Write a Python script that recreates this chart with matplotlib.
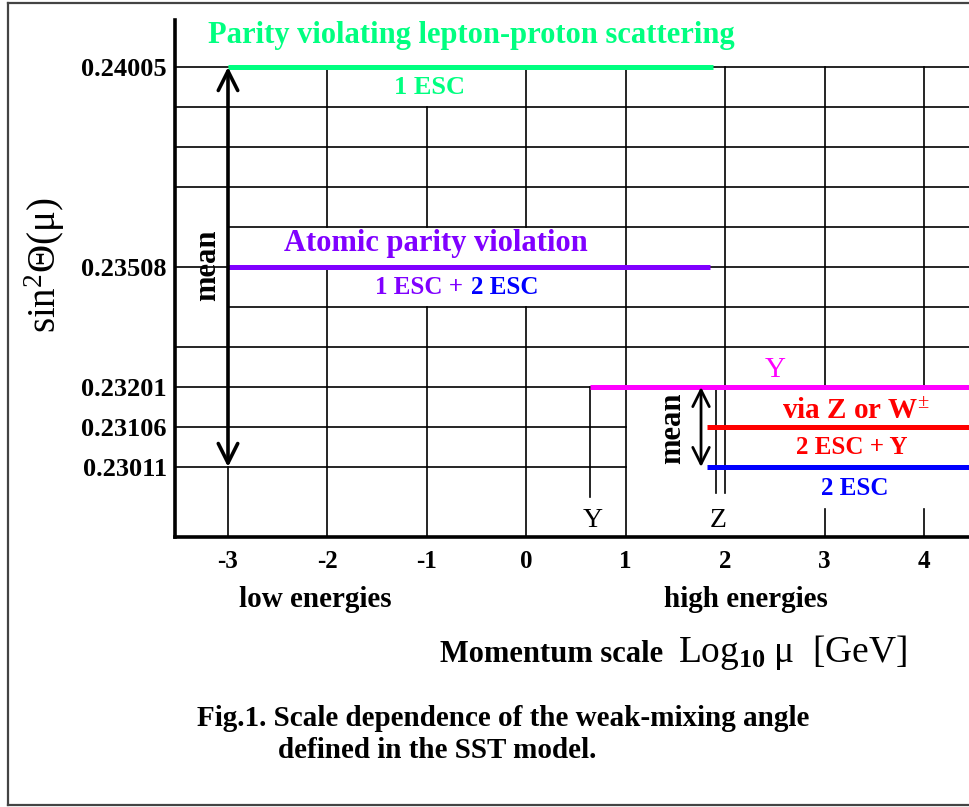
import matplotlib
matplotlib.use("Agg")
import matplotlib.pyplot as plt
from matplotlib.lines import Line2D

plt.rcParams['font.family'] = ['Liberation Serif', 'DejaVu Serif']
plt.rcParams['mathtext.fontset'] = 'custom'
plt.rcParams['mathtext.rm'] = 'Liberation Serif'
plt.rcParams['mathtext.it'] = 'Liberation Serif:italic'
plt.rcParams['mathtext.bf'] = 'Liberation Serif:bold'

# weak-mixing angle values and their row on the schematic grid
levels = [0.24005, 0.23508, 0.23201, 0.23106, 0.23011]
level_rows = [10, 5, 2, 1, 0]
level_labels = ["0.24005", "0.23508", "0.23201", "0.23106", "0.23011"]

# measured bands: value, log10(mu) start / end, colour
band_value = [0.24005, 0.23508, 0.23201, 0.23106, 0.23011]
band_x0 = [-3.0, -3.0, 0.64, 1.82, 1.82]
band_x1 = [1.88, 1.85, 4.46, 4.46, 4.46]
band_color = ["#00ff80", "#8000ff", "#ff00ff", "#ff0000", "#0000ff"]

x_ticks = [-3, -2, -1, 0, 1, 2, 3, 4]
y_marker = 0.64          # Y resonance
z_marker = [1.91, 2.0]   # Z boson

W, H = 970, 807
row_of = dict(zip(levels, level_rows))


def px(x, y):
    return x / W, 1 - y / H


fig = plt.figure(figsize=(W / 100, H / 100), dpi=100)
ax = fig.add_axes([175 / W, 1 - 537 / H, 795 / W, 517 / H])
L, R = -3.533, 4.462
B, T = -1.75, 11.175
ax.set_xlim(L, R)
ax.set_ylim(B, T)
for s in ["top", "right"]:
    ax.spines[s].set_visible(False)
for s in ["left", "bottom"]:
    ax.spines[s].set_linewidth(2.6)

ax.set_xticks(x_ticks)
ax.set_xticklabels([str(t) for t in x_ticks], fontsize=18, fontweight="bold")
ax.set_yticks(level_rows)
ax.set_yticklabels(level_labels, fontsize=19, fontweight="bold")
ax.tick_params(axis="both", length=0)
ax.tick_params(axis="y", pad=6)
ax.tick_params(axis="x", pad=9)

# schematic grid (segments, gaps left for labels)
gk = dict(color="black", lw=1.2, clip_on=False, zorder=1)
hsegs = [(10, L, -3), (10, 1.88, R), (9, L, R), (8, L, R), (7, L, R),
         (6, -3, R), (5, L, -3), (5, 1.85, R), (4, -3, R), (3, L, R),
         (2, L, y_marker), (1, L, 1), (0, L, 1)]
for r, a, b in hsegs:
    ax.plot([a, b], [r, r], **gk)
vsegs = [(-3, B, 0), (-2, 6, 10), (-2, B, 5), (-1, 6, 9), (-1, B, 4),
         (0, 6, 10), (0, B, 4), (1, B, 10), (2, 2, 10), (3, 2, 10),
         (3, B, -1.05), (4, 2, 10), (4, B, -1.05), (y_marker, -0.75, 2)]
for x, a, b in vsegs:
    ax.plot([x, x], [a, b], **gk)
for zx in z_marker:
    ax.plot([zx, zx], [-0.65, 2], **gk)

# coloured bands
for v, a, b, c in zip(band_value, band_x0, band_x1, band_color):
    ax.plot([a, b], [row_of[v], row_of[v]], color=c, lw=3.6,
            solid_capstyle="butt", clip_on=False, zorder=3)

# "mean" arrows
ax.annotate("", xy=(-3, row_of[0.24005]), xytext=(-3, row_of[0.23011]),
            arrowprops=dict(arrowstyle="<->, head_length=0.7, head_width=0.35",
                            lw=2.6, color="black", shrinkA=0, shrinkB=0,
                            mutation_scale=20), zorder=4)
ax.annotate("", xy=(1.757, row_of[0.23201]), xytext=(1.757, row_of[0.23011]),
            arrowprops=dict(arrowstyle="<->, head_length=0.7, head_width=0.35",
                            lw=2.0, color="black", shrinkA=0, shrinkB=0,
                            mutation_scale=17), zorder=4)
ax.text(-3.2, 5.05, "mean", rotation=90, ha="center", va="center",
        fontsize=22, fontweight="bold")
ax.text(1.47, 0.98, "mean", rotation=90, ha="center", va="center",
        fontsize=22, fontweight="bold")

# band labels
bk = dict(ha="center", va="center", fontweight="bold")
ax.text(-0.55, 10.8, "Parity violating lepton-proton scattering",
        color="#00ff80", fontsize=22, clip_on=False, **bk)
ax.text(-0.97, 9.48, "1 ESC", color="#00ff80", fontsize=19, **bk)
ax.text(-0.91, 5.6, "Atomic parity violation", color="#8000ff", fontsize=22, **bk)
ax.text(-1.522, 4.48, "1 ESC +", color="#8000ff", fontsize=18,
        ha="left", va="center", fontweight="bold")
ax.text(0.118, 4.48, "2 ESC", color="#0000ff", fontsize=18,
        ha="right", va="center", fontweight="bold")
ax.text(2.50, 2.43, "Y", color="#ff00ff", fontsize=21, ha="center", va="center")
ax.text(3.31, 1.4, "via Z or W$^{\\pm}$", color="#ff0000", fontsize=21, **bk)
ax.text(3.27, 0.48, "2 ESC + Y", color="#ff0000", fontsize=18, **bk)
ax.text(3.30, -0.53, "2 ESC", color="#0000ff", fontsize=18, **bk)
ax.text(0.67, -1.33, "Y", fontsize=20, ha="center", va="center")
ax.text(1.93, -1.33, "Z", fontsize=20, ha="center", va="center")

# text below the axes
fig.text(*px(315, 607), "low energies", fontsize=21, fontweight="bold",
         ha="center", va="baseline")
fig.text(*px(746, 607), "high energies", fontsize=21, fontweight="bold",
         ha="center", va="baseline")
fig.text(*px(440, 662), "Momentum scale", fontsize=22, fontweight="bold",
         ha="left", va="baseline")
fig.text(*px(907, 662), "Log$_{\\mathbf{10}}$\u2009\u03bc  [GeV]", fontsize=27,
         ha="right", va="baseline")
fig.text(*px(197, 726), "Fig.1. Scale dependence of the weak-mixing angle",
         fontsize=21, fontweight="bold", ha="left", va="baseline")
fig.text(*px(278, 758), "defined in the SST model.",
         fontsize=21, fontweight="bold", ha="left", va="baseline")
fig.text(*px(45, 265), "sin$^{2}$\u0398(\u03bc)", fontsize=28, rotation=90,
         ha="center", va="center")

# outer frame of the figure
for xs, ys in [((8, 8), (3, 805)), ((8, W), (3, 3)), ((8, W), (805, 805))]:
    fig.add_artist(Line2D([x / W for x in xs], [1 - y / H for y in ys],
                          color="#444444", lw=1.6))

fig.savefig("out.png", dpi=100)
